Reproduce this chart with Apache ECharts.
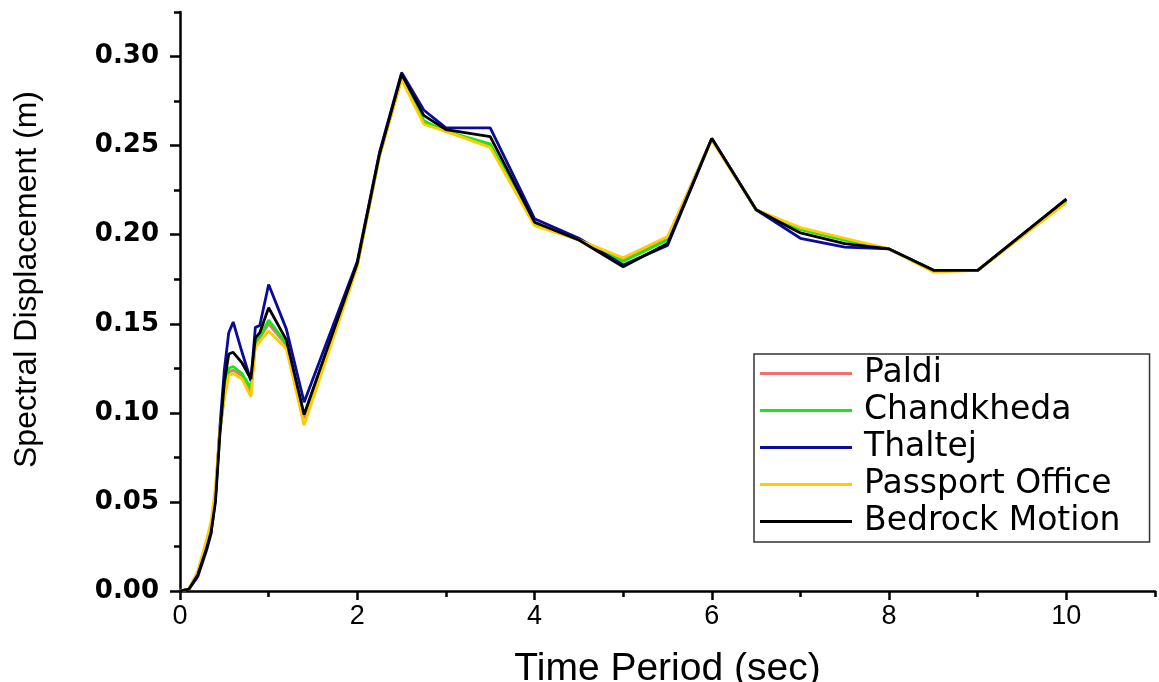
<!DOCTYPE html>
<html>
<head>
<meta charset="utf-8">
<title>Spectral Displacement</title>
<script src="https://cdn.jsdelivr.net/npm/echarts@6/dist/echarts.min.js"></script>
<style>
  html, body { margin: 0; padding: 0; background: #ffffff; }
  #chart { width: 1159px; height: 682px; }
</style>
</head>
<body>
<div id="chart"></div>
<script>
// Time period (sec) of each response-spectrum ordinate
const periods = [0, 0.1, 0.2, 0.3, 0.35, 0.4, 0.45, 0.5, 0.55, 0.6, 0.7, 0.8, 0.85, 0.9, 1.0, 1.2, 1.4,
  2.0, 2.25, 2.5, 2.75, 3.0, 3.5, 4.0, 4.5, 5.0, 5.5, 6.0, 6.5, 7.0, 7.5, 8.0, 8.5, 9.0, 10.0];

// Spectral displacement (m) per site
const paldi = [0, 0.001, 0.010, 0.027, 0.036, 0.055, 0.090, 0.109, 0.123, 0.124, 0.121, 0.112, 0.139, 0.142, 0.150, 0.138, 0.097,
  0.183, 0.244, 0.288, 0.263, 0.258, 0.250, 0.206, 0.197, 0.186, 0.198, 0.254, 0.214, 0.203, 0.197, 0.192, 0.180, 0.180, 0.219];
const chandkheda = [0, 0.001, 0.010, 0.026, 0.035, 0.053, 0.089, 0.110, 0.125, 0.126, 0.122, 0.114, 0.140, 0.143, 0.152, 0.139, 0.099,
  0.183, 0.245, 0.289, 0.264, 0.258, 0.251, 0.206, 0.197, 0.185, 0.197, 0.254, 0.214, 0.203, 0.197, 0.192, 0.180, 0.180, 0.219];
const thaltej = [0, 0.001, 0.008, 0.023, 0.032, 0.052, 0.092, 0.124, 0.145, 0.151, 0.134, 0.118, 0.148, 0.149, 0.172, 0.147, 0.106,
  0.185, 0.246, 0.291, 0.270, 0.260, 0.260, 0.209, 0.198, 0.183, 0.194, 0.254, 0.214, 0.198, 0.193, 0.192, 0.180, 0.180, 0.220];
const passportOffice = [0, 0.001, 0.011, 0.029, 0.039, 0.058, 0.091, 0.108, 0.121, 0.122, 0.119, 0.109, 0.137, 0.140, 0.146, 0.136, 0.093,
  0.182, 0.244, 0.287, 0.262, 0.258, 0.249, 0.205, 0.197, 0.187, 0.199, 0.253, 0.214, 0.204, 0.198, 0.192, 0.179, 0.180, 0.218];
const bedrockMotion = [0, 0.001, 0.009, 0.024, 0.033, 0.050, 0.088, 0.117, 0.133, 0.134, 0.128, 0.119, 0.142, 0.145, 0.159, 0.141, 0.099,
  0.184, 0.245, 0.290, 0.267, 0.259, 0.255, 0.207, 0.197, 0.182, 0.195, 0.254, 0.214, 0.201, 0.195, 0.192, 0.180, 0.180, 0.220];

const seriesNames = ['Paldi', 'Chandkheda', 'Thaltej', 'Passport Office', 'Bedrock Motion'];
const seriesValues = [paldi, chandkheda, thaltej, passportOffice, bedrockMotion];
const seriesColors = ['#f07070', '#19e619', '#0a0a9c', '#ffcc00', '#000000'];

// Labelled (major) ticks
const xTickValues = [0, 2, 4, 6, 8, 10];
const yTickValues = [0, 0.05, 0.10, 0.15, 0.20, 0.25, 0.30];

const X_MAX = 11, Y_MAX = 0.325;

const chart = echarts.init(document.getElementById('chart'), null, { renderer: 'canvas' });

const axisLineStyle = { color: '#000', width: 2.5 };

const option = {
  backgroundColor: '#ffffff',
  animation: false,
  grid: { left: 180, right: 4, top: 12, bottom: 91, containLabel: false, outerBoundsMode: 'none' },
  xAxis: [
    {
      type: 'value', min: 0, max: X_MAX, interval: 2,
      axisLine: { show: true, onZero: false, lineStyle: axisLineStyle },
      axisTick: { show: true, inside: false, length: 9, lineStyle: { color: '#000', width: 2.5 }, customValues: xTickValues },
      axisLabel: {
        customValues: xTickValues, margin: 12, color: '#000',
        fontFamily: "'Liberation Sans', Arial, sans-serif", fontSize: 27
      },
      splitLine: { show: false },
      name: 'Time Period (sec)', nameLocation: 'middle', nameGap: 59,
      nameTextStyle: { color: '#000', fontFamily: "'Liberation Sans', Arial, sans-serif", fontSize: 39 }
    },
    {
      // odd-second minor ticks
      type: 'value', min: 0, max: X_MAX, interval: 1, position: 'bottom', offset: 0,
      axisLine: { show: false }, axisLabel: { show: false }, splitLine: { show: false },
      axisTick: { show: true, inside: false, length: 6, lineStyle: { color: '#000', width: 2.5 } }
    }
  ],
  yAxis: [
    {
      type: 'value', min: 0, max: Y_MAX, interval: 0.05,
      axisLine: { show: true, onZero: false, lineStyle: axisLineStyle },
      axisTick: { show: true, inside: false, length: 10, lineStyle: { color: '#000', width: 2.5 }, customValues: yTickValues },
      axisLabel: {
        customValues: yTickValues, margin: 21, color: '#000',
        fontFamily: "'DejaVu Sans', sans-serif", fontSize: 26, fontWeight: 'bold',
        formatter: v => v.toFixed(2)
      },
      splitLine: { show: false },
      name: 'Spectral Displacement (m)', nameLocation: 'middle', nameGap: 137, nameRotate: 90,
      nameTextStyle: {
        color: '#000', fontFamily: "'Liberation Sans', Arial, sans-serif", fontSize: 32,
        padding: [0, 0, 0, 44]
      }
    },
    {
      // 0.025 m minor ticks
      type: 'value', min: 0, max: Y_MAX, interval: 0.025, position: 'left', offset: 0,
      axisLine: { show: false }, axisLabel: { show: false }, splitLine: { show: false },
      axisTick: { show: true, inside: false, length: 6, lineStyle: { color: '#000', width: 2.5 } }
    }
  ],
  legend: {
    orient: 'vertical', left: 754, top: 354,
    data: seriesNames.map(name => ({ name, icon: 'rect' })),
    padding: [3, 29, 4, 6],
    itemWidth: 92, itemHeight: 3, itemGap: 4,
    borderColor: '#333', borderWidth: 1.5, borderRadius: 0,
    backgroundColor: '#ffffff',
    textStyle: {
      color: '#000', fontFamily: "'DejaVu Sans', sans-serif", fontSize: 33, lineHeight: 33,
      padding: [0, 0, 0, 7]
    }
  },
  series: seriesNames.map((name, i) => ({
    name,
    type: 'line',
    xAxisIndex: 0, yAxisIndex: 0,
    data: periods.map((t, k) => [t, seriesValues[i][k]]),
    symbol: 'none', showSymbol: false, smooth: false,
    color: seriesColors[i],
    itemStyle: { color: seriesColors[i] },
    lineStyle: { color: seriesColors[i], width: 2.8 },
    z: 2 + i
  }))
};

chart.setOption(option);
</script>
</body>
</html>
